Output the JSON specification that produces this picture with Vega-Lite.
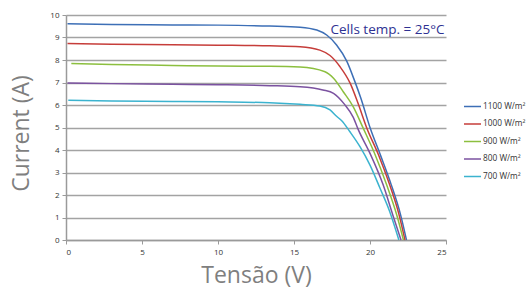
{
  "$schema": "https://vega.github.io/schema/vega-lite/v6.json",
  "width": 380,
  "height": 225,
  "autosize": "none",
  "padding": {"left": 66, "top": 15, "right": 80, "bottom": 50},
  "background": "white",
  "config": {
    "view": {"stroke": null},
    "font": "Open Sans"
  },
  "datasets": {
    "curves": [
      {"s": "1100 W/m²", "v": 0.1, "i": 9.61}, {"s": "1100 W/m²", "v": 3, "i": 9.58}, {"s": "1100 W/m²", "v": 7, "i": 9.56}, {"s": "1100 W/m²", "v": 10, "i": 9.55}, {"s": "1100 W/m²", "v": 13.4, "i": 9.51}, {"s": "1100 W/m²", "v": 15.4, "i": 9.46}, {"s": "1100 W/m²", "v": 16.5, "i": 9.33}, {"s": "1100 W/m²", "v": 17.15, "i": 9.11}, {"s": "1100 W/m²", "v": 17.8, "i": 8.67}, {"s": "1100 W/m²", "v": 18.47, "i": 7.95}, {"s": "1100 W/m²", "v": 19.0, "i": 7.05}, {"s": "1100 W/m²", "v": 19.4, "i": 6.3}, {"s": "1100 W/m²", "v": 20.0, "i": 5.0}, {"s": "1100 W/m²", "v": 20.7, "i": 3.75}, {"s": "1100 W/m²", "v": 21.4, "i": 2.45}, {"s": "1100 W/m²", "v": 22.0, "i": 1.15}, {"s": "1100 W/m²", "v": 22.4, "i": 0},
      {"s": "1000 W/m²", "v": 0.1, "i": 8.73}, {"s": "1000 W/m²", "v": 3, "i": 8.70}, {"s": "1000 W/m²", "v": 7, "i": 8.68}, {"s": "1000 W/m²", "v": 10, "i": 8.66}, {"s": "1000 W/m²", "v": 13.4, "i": 8.63}, {"s": "1000 W/m²", "v": 15.4, "i": 8.59}, {"s": "1000 W/m²", "v": 16.7, "i": 8.44}, {"s": "1000 W/m²", "v": 17.37, "i": 8.2}, {"s": "1000 W/m²", "v": 18.03, "i": 7.7}, {"s": "1000 W/m²", "v": 18.7, "i": 6.96}, {"s": "1000 W/m²", "v": 19.2, "i": 6.1}, {"s": "1000 W/m²", "v": 19.8, "i": 4.96}, {"s": "1000 W/m²", "v": 20.55, "i": 3.8}, {"s": "1000 W/m²", "v": 21.3, "i": 2.44}, {"s": "1000 W/m²", "v": 21.9, "i": 1.15}, {"s": "1000 W/m²", "v": 22.3, "i": 0},
      {"s": "900 W/m²", "v": 0.35, "i": 7.84}, {"s": "900 W/m²", "v": 3, "i": 7.8}, {"s": "900 W/m²", "v": 7, "i": 7.76}, {"s": "900 W/m²", "v": 10, "i": 7.73}, {"s": "900 W/m²", "v": 13.4, "i": 7.72}, {"s": "900 W/m²", "v": 15.4, "i": 7.69}, {"s": "900 W/m²", "v": 17.04, "i": 7.48}, {"s": "900 W/m²", "v": 17.6, "i": 7.19}, {"s": "900 W/m²", "v": 18.24, "i": 6.59}, {"s": "900 W/m²", "v": 18.9, "i": 5.92}, {"s": "900 W/m²", "v": 19.56, "i": 4.96}, {"s": "900 W/m²", "v": 20.33, "i": 3.8}, {"s": "900 W/m²", "v": 21.1, "i": 2.44}, {"s": "900 W/m²", "v": 21.76, "i": 1.11}, {"s": "900 W/m²", "v": 22.2, "i": 0},
      {"s": "800 W/m²", "v": 0.1, "i": 6.98}, {"s": "800 W/m²", "v": 3, "i": 6.95}, {"s": "800 W/m²", "v": 7, "i": 6.92}, {"s": "800 W/m²", "v": 10, "i": 6.9}, {"s": "800 W/m²", "v": 13.4, "i": 6.86}, {"s": "800 W/m²", "v": 15.4, "i": 6.81}, {"s": "800 W/m²", "v": 16.9, "i": 6.67}, {"s": "800 W/m²", "v": 17.6, "i": 6.52}, {"s": "800 W/m²", "v": 18.3, "i": 6.05}, {"s": "800 W/m²", "v": 18.9, "i": 5.45}, {"s": "800 W/m²", "v": 19.2, "i": 4.95}, {"s": "800 W/m²", "v": 20.0, "i": 3.85}, {"s": "800 W/m²", "v": 20.87, "i": 2.44}, {"s": "800 W/m²", "v": 21.5, "i": 1.11}, {"s": "800 W/m²", "v": 22.04, "i": 0},
      {"s": "700  W/m²", "v": 0.15, "i": 6.21}, {"s": "700  W/m²", "v": 3, "i": 6.18}, {"s": "700  W/m²", "v": 7, "i": 6.16}, {"s": "700  W/m²", "v": 10, "i": 6.14}, {"s": "700  W/m²", "v": 13.4, "i": 6.1}, {"s": "700  W/m²", "v": 15.4, "i": 6.03}, {"s": "700  W/m²", "v": 16.7, "i": 5.96}, {"s": "700  W/m²", "v": 17.37, "i": 5.78}, {"s": "700  W/m²", "v": 17.8, "i": 5.5}, {"s": "700  W/m²", "v": 18.14, "i": 5.3}, {"s": "700  W/m²", "v": 18.68, "i": 4.81}, {"s": "700  W/m²", "v": 19.34, "i": 4.15}, {"s": "700  W/m²", "v": 20.0, "i": 3.33}, {"s": "700  W/m²", "v": 20.66, "i": 2.3}, {"s": "700  W/m²", "v": 21.3, "i": 1.26}, {"s": "700  W/m²", "v": 21.9, "i": 0}
    ],
    "note": [
      {"label": "Cells temp. = 25°C", "v": 24.9, "i": 9.33}
    ]
  },
  "encoding": {
    "x": {
      "field": "v", "type": "quantitative",
      "scale": {"domain": [0, 25], "nice": false},
      "axis": {
        "title": "Tensão (V)",
        "values": [0, 5, 10, 15, 20, 25],
        "grid": false,
        "domainColor": "#9a9a9a", "domainWidth": 1.5,
        "tickColor": "#9a9a9a", "tickSize": 4,
        "labelFontSize": 8, "labelColor": "#333333", "labelPadding": 4,
        "titleFontSize": 23, "titleFontWeight": "normal", "titleColor": "#7f7f7f",
        "titleX": 190, "titleY": 42, "titleAlign": "center", "titleBaseline": "alphabetic"
      }
    },
    "y": {
      "field": "i", "type": "quantitative",
      "scale": {"domain": [0, 10], "nice": false},
      "axis": {
        "title": "Current (A)",
        "values": [0, 1, 2, 3, 4, 5, 6, 7, 8, 9, 10],
        "labelOverlap": false,
        "grid": true, "gridColor": "#a3a3a3", "gridWidth": 1.5,
        "domainColor": "#9a9a9a", "domainWidth": 1.5,
        "tickColor": "#9a9a9a", "tickSize": 4,
        "labelFontSize": 8, "labelColor": "#333333", "labelPadding": 3,
        "titleFontSize": 23, "titleFontWeight": "normal", "titleColor": "#7f7f7f",
        "titleX": -38, "titleY": 118, "titleAlign": "center", "titleBaseline": "alphabetic", "titleAngle": -90
      }
    }
  },
  "layer": [
    {
      "data": {"name": "curves"},
      "mark": {"type": "line", "strokeWidth": 1.5, "interpolate": "monotone"},
      "encoding": {
        "color": {
          "field": "s", "type": "nominal",
          "scale": {
            "domain": ["1100 W/m²", "1000 W/m²", "900 W/m²", "800 W/m²", "700  W/m²"],
            "range": ["#3d6fb6", "#c63d3a", "#8cbf3f", "#7b52a0", "#3bb3cf"]
          },
          "legend": {
            "title": null,
            "orient": "none",
            "legendX": 397,
            "legendY": 82,
            "symbolType": "stroke",
            "symbolSize": 289,
            "symbolStrokeWidth": 1.5,
            "labelFontSize": 8.3,
            "labelColor": "#333333",
            "labelOffset": 1,
            "rowPadding": 4.5
          }
        }
      }
    },
    {
      "data": {"name": "note"},
      "mark": {"type": "text", "align": "right", "baseline": "middle", "fontSize": 13.5, "color": "#2e3192"},
      "encoding": {
        "text": {"field": "label"}
      }
    }
  ]
}
